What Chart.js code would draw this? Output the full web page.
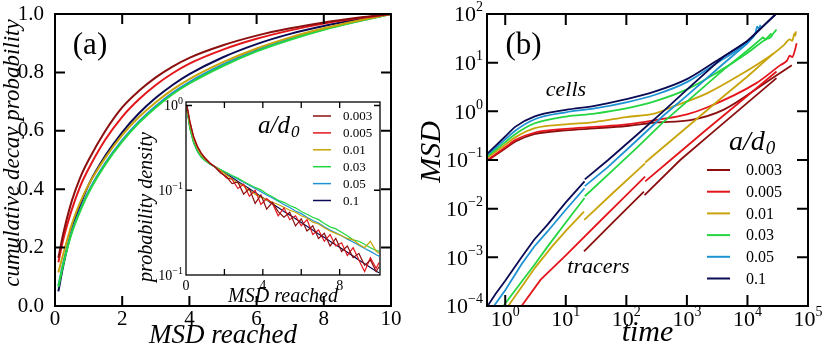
<!DOCTYPE html>
<html>
<head>
<meta charset="utf-8">
<script src="https://cdn.jsdelivr.net/npm/chart.js@4"></script>
<style>
body{margin:0;background:#fff;}
#wrap{position:relative;width:822px;height:348px;overflow:hidden;}
canvas{position:absolute;}
.fontwarm{position:absolute;left:-9999px;top:0;font-family:'Liberation Serif';font-size:20px;}
</style>
</head>
<body>
<div class="fontwarm">warm 0123 <i>italic warm</i></div>
<div id="wrap">
<canvas id="chartA" width="411" height="348" style="left:0;top:0;width:411px;height:348px"></canvas>
<canvas id="inset" width="255" height="212" style="left:130px;top:96px;width:255px;height:212px"></canvas>
<canvas id="chartB" width="411" height="348" style="left:411px;top:0;width:411px;height:348px"></canvas>
</div>
<script>
/* DATA */

const series = ["0.003","0.005","0.01","0.03","0.05","0.1"];
const colors = ["#8b0f0f","#e3161c","#c8a40a","#24d640","#1e93d3","#0b0b55"];

// (a) cumulative decay probability vs MSD reached
const msdA = [0.1,0.25,0.5,0.75,1,1.5,2,2.5,3,3.5,4,5,6,7,8,9,10];
const cum003 = [0.165,0.25,0.36,0.44,0.50,0.60,0.68,0.737,0.783,0.82,0.85,0.893,0.926,0.951,0.971,0.987,1.0];
const cum005 = [0.15,0.23,0.33,0.41,0.47,0.57,0.648,0.708,0.757,0.797,0.83,0.878,0.915,0.944,0.967,0.985,1.0];
const cum01  = [0.115,0.18,0.28,0.355,0.415,0.508,0.585,0.647,0.698,0.741,0.777,0.835,0.882,0.92,0.951,0.977,1.0];
const cum03  = [0.065,0.145,0.25,0.325,0.388,0.485,0.563,0.627,0.68,0.725,0.762,0.822,0.872,0.912,0.946,0.974,1.0];
const cum05  = [0.07,0.15,0.255,0.33,0.393,0.49,0.568,0.632,0.685,0.73,0.767,0.827,0.876,0.915,0.948,0.975,1.0];
const cum1   = [0.05,0.14,0.26,0.345,0.415,0.515,0.595,0.66,0.713,0.757,0.794,0.852,0.897,0.932,0.959,0.981,1.0];

// inset: probability density vs MSD reached
const insetX = [0.05,0.2,0.4,0.6,0.8,1.0,1.25,1.5,1.8,2.1,2.4,2.7,3.0,3.3,3.6,3.9,4.2,4.5,4.8,5.1,5.4,5.7,6.0,6.3,6.6,6.9,7.2,7.5,7.8,8.1,8.4,8.7,9.0,9.3,9.6,9.9,10.05];
const den003 = [1.0,0.64,0.42,0.325,0.27,0.237,0.208,0.188,0.16,0.145,0.12,0.125,0.09,0.105,0.07,0.088,0.06,0.072,0.056,0.048,0.055,0.038,0.046,0.033,0.038,0.027,0.031,0.022,0.027,0.019,0.022,0.016,0.018,0.013,0.015,0.011,0.0125];
const den005 = [1.0,0.66,0.43,0.33,0.275,0.24,0.21,0.19,0.165,0.14,0.135,0.105,0.118,0.085,0.1,0.068,0.08,0.07,0.05,0.062,0.045,0.05,0.038,0.045,0.03,0.034,0.025,0.03,0.022,0.024,0.017,0.021,0.015,0.011,0.016,0.012,0.014];
const den01  = [0.95,0.6,0.4,0.31,0.26,0.23,0.207,0.19,0.17,0.152,0.136,0.122,0.112,0.1,0.09,0.083,0.077,0.072,0.068,0.063,0.058,0.055,0.05,0.047,0.042,0.04,0.036,0.033,0.031,0.029,0.027,0.026,0.023,0.021,0.025,0.019,0.018];
const den03  = [0.9,0.53,0.36,0.285,0.245,0.222,0.203,0.19,0.176,0.162,0.149,0.139,0.127,0.117,0.108,0.101,0.091,0.084,0.076,0.072,0.066,0.062,0.056,0.052,0.048,0.045,0.0405,0.037,0.035,0.032,0.029,0.026,0.025,0.023,0.021,0.0195,0.019];
const den05  = [0.9,0.54,0.36,0.285,0.245,0.222,0.203,0.19,0.175,0.161,0.147,0.135,0.124,0.114,0.105,0.096,0.088,0.081,0.074,0.068,0.0625,0.057,0.053,0.048,0.044,0.041,0.037,0.034,0.0315,0.029,0.0265,0.0245,0.0225,0.0205,0.019,0.0173,0.0167];
const den1   = [0.92,0.55,0.37,0.29,0.25,0.225,0.205,0.19,0.172,0.155,0.141,0.127,0.115,0.104,0.094,0.0845,0.0765,0.069,0.0625,0.056,0.051,0.046,0.0415,0.0375,0.034,0.0305,0.0278,0.025,0.0226,0.0205,0.0185,0.0167,0.015,0.0136,0.0123,0.0111,0.0106];
const insetXTicks = [0,2,4,6,8];
const insetXLabels = ["0","","4","","8"];
const insetYTicks = [0.01,0.1,1];
const insetYExp = ["-1","-1","0"];

// (b) MSD vs time, [time, MSD]; null marks a break between segments
const cells003 = [[0.5,0.0955],[1.0,0.172],[1.48,0.24],[3,0.339],[10,0.407],[30,0.447],[100,0.5],[300,0.589],[1150,0.66],[4000,1.07],[21000,4.07],[54000,8.9]];
const cells005 = [[0.5,0.098],[1.0,0.182],[1.48,0.259],[3,0.363],[10,0.437],[30,0.479],[100,0.537],[300,0.66],[1000,0.87],[2140,1.2],[14000,3.8],[35000,8.9],[45000,11],[50000,14],[55000,13],[60000,17],[65000,25]];
const cells01  = [[0.5,0.11],[1.0,0.206],[1.48,0.295],[3,0.447],[10,0.537],[30,0.603],[100,0.76],[300,0.91],[600,1.26],[2140,2.34],[7600,5.62],[27000,15.5],[40000,23],[50000,30],[55000,28],[60000,40],[62000,36],[63000,44]];
const cells03  = [[0.5,0.1175],[1.0,0.233],[1.48,0.344],[3,0.562],[10,0.782],[30,0.9],[100,1.148],[300,1.62],[1000,2.82],[3000,6.03],[10000,15.85],[20000,30],[24000,33],[26000,38],[30200,47.9]];
const cells05  = [[0.5,0.126],[1.0,0.265],[1.48,0.404],[3,0.68],[10,0.955],[30,1.146],[100,1.53],[300,2.19],[1000,3.98],[3000,9.55],[10000,26.3],[13500,40],[14500,55],[15500,50],[16500,60]];
const cells1   = [[0.5,0.133],[1.0,0.304],[1.48,0.485],[3,0.78],[10,1.07],[30,1.3],[100,1.78],[300,2.57],[1000,4.6],[3000,10.7],[10000,28],[29500,100],[40000,140]];

const trac003 = [[20,0.00132],[60,0.0052],[195,0.0224],[200,null],[200,0.019],[776,0.1],[3000,0.42],[11000,1.66],[30200,4.8]];
const trac005 = [[1.86,0.0001],[3.85,0.000347],[10,0.0011],[30,0.0043],[100,0.019],[204,0.0457],[205,null],[205,0.0363],[537,0.1],[2000,0.4],[10000,2.09],[30200,6.6]];
const trac01  = [[1.12,0.0001],[2,0.00028],[3.16,0.00063],[6,0.0017],[10,0.0035],[20,0.0087],[20.2,null],[20.2,0.0059],[60,0.021],[204,0.085],[205,null],[205,0.089],[250,0.11],[1000,0.47],[3000,1.5],[10000,5.2],[27000,15.5]];
const trac03  = [[0.93,0.0001],[1.86,0.000316],[3,0.00069],[5,0.00166],[10,0.0052],[20.4,0.0166],[20.6,null],[20.6,0.018],[50,0.05],[150,0.18],[407,0.6],[1000,1.58],[4000,7.1],[10000,17.8],[18000,33],[20000,30],[25000,40]];
const trac05  = [[0.65,0.0001],[1,0.00021],[1.86,0.00072],[3,0.00165],[5,0.0034],[10,0.0095],[20.4,0.0263],[20.6,null],[20.6,0.029],[50,0.072],[150,0.255],[407,0.81],[1000,2.1],[4000,9.5],[10000,25],[16000,50]];
const trac1   = [[0.51,0.0001],[0.7,0.00018],[1,0.00033],[1.86,0.001],[3,0.0023],[5,0.0047],[10,0.0135],[20.4,0.0363],[20.6,null],[20.6,0.04],[50,0.1],[150,0.33],[407,1.0],[1000,2.8],[4000,13.2],[10000,28],[29500,100],[40000,140]];

const timeTicks = [1,10,100,1000,10000,100000];
const msdTicks = [0.0001,0.001,0.01,0.1,1,10,100];


/* SETUP */

const SERIF = "'Liberation Serif'";
Chart.defaults.font.family = SERIF;
Chart.defaults.color = "#000";

function pts(arr){ return arr.map(p => ({x:p[0], y:p[1]})); }

// box round the plot with inward ticks on all four sides
const frame = {
  id:"frame",
  beforeDatasetsDraw(chart, args, o){
    if(!o.fill) return;
    const a = chart.chartArea, ctx = chart.ctx;
    ctx.save(); ctx.fillStyle = "#fff";
    ctx.fillRect(a.left, a.top, a.right - a.left, a.bottom - a.top);
    ctx.restore();
  },
  afterDatasetsDraw(chart, args, o){
    const ctx = chart.ctx, a = chart.chartArea;
    const x = chart.scales.x, y = chart.scales.y;
    ctx.save();
    ctx.strokeStyle = "#000";
    ctx.lineWidth = o.width;
    ctx.beginPath();
    x.ticks.forEach(t => {
      const p = x.getPixelForValue(t.value);
      if(p < a.left + 2 || p > a.right - 2) return;
      ctx.moveTo(p, a.bottom); ctx.lineTo(p, a.bottom - o.len);
      ctx.moveTo(p, a.top); ctx.lineTo(p, a.top + o.len);
    });
    y.ticks.forEach(t => {
      const p = y.getPixelForValue(t.value);
      if(p < a.top + 2 || p > a.bottom - 2) return;
      ctx.moveTo(a.left, p); ctx.lineTo(a.left + o.len, p);
      ctx.moveTo(a.right, p); ctx.lineTo(a.right - o.len, p);
    });
    ctx.stroke();
    ctx.strokeRect(a.left, a.top, a.right - a.left, a.bottom - a.top);
    ctx.restore();
  }
};

// 10^n tick labels for log axes
const powLabels = {
  id:"powLabels",
  afterDraw(chart, args, o){
    if(!o.axes) return;
    const ctx = chart.ctx, a = chart.chartArea;
    ctx.save();
    ctx.fillStyle = "#000";
    ctx.textAlign = "left";
    ctx.textBaseline = "alphabetic";
    o.axes.forEach(id => {
      const s = chart.scales[id];
      s.ticks.forEach((t, i) => {
        let es = (o.exps && o.exps[id]) ? o.exps[id][i] : String(Math.round(Math.log10(t.value)));
        es = es.replace("-", "\u2212");
        ctx.font = o.base + "px " + SERIF;
        const w1 = ctx.measureText("10").width;
        ctx.font = o.sup + "px " + SERIF;
        const w2 = ctx.measureText(es).width;
        const p = s.getPixelForValue(t.value);
        let bx, by;
        if(id === "x"){ bx = p - (w1 + w2) / 2; by = a.bottom + o.xDrop; }
        else { bx = a.left - o.yGap - w1 - w2; by = p + o.base * 0.33; }
        ctx.font = o.base + "px " + SERIF;
        ctx.fillText("10", bx, by);
        ctx.font = o.sup + "px " + SERIF;
        ctx.fillText(es, bx + w1, by - o.raise);
      });
    });
    ctx.restore();
  }
};

// free text: panel letters, y titles, annotations
const notes = {
  id:"notes",
  afterDraw(chart, args, o){
    if(!o.items) return;
    const ctx = chart.ctx;
    ctx.save();
    ctx.fillStyle = "#000";
    ctx.textAlign = "center";
    ctx.textBaseline = "middle";
    o.items.forEach(n => {
      ctx.font = (n.italic ? "italic " : "") + n.size + "px " + SERIF;
      ctx.save();
      ctx.translate(n.x, n.y);
      if(n.rot) ctx.rotate(n.rot);
      ctx.fillText(n.text, 0, 0);
      ctx.restore();
    });
    ctx.restore();
  }
};

// a/d0 legend
const keyBox = {
  id:"keyBox",
  afterDraw(chart, args, o){
    if(o.x0 === undefined) return;
    const ctx = chart.ctx;
    ctx.save();
    ctx.fillStyle = "#000";
    ctx.textAlign = "left";
    ctx.textBaseline = "alphabetic";
    ctx.font = "italic " + o.tSize + "px " + SERIF;
    ctx.fillText("a/d", o.tx, o.ty);
    const w = ctx.measureText("a/d").width;
    ctx.font = "italic " + o.sSize + "px " + SERIF;
    ctx.fillText("0", o.tx + w + 1, o.ty + o.sDrop);
    ctx.textBaseline = "middle";
    ctx.font = o.size + "px " + SERIF;
    ctx.lineWidth = o.lw;
    series.forEach((s, i) => {
      const yy = o.y0 + i * o.dy;
      ctx.strokeStyle = colors[i];
      ctx.beginPath(); ctx.moveTo(o.x0, yy); ctx.lineTo(o.x1, yy); ctx.stroke();
      ctx.fillText(s, o.tx2, yy + 1);
    });
    ctx.restore();
  }
};

const baseOpts = {
  responsive:false, animation:false, devicePixelRatio:1,
  elements:{point:{radius:0}}
};

function drawAll(){

/* PANEL (a) */

const cumA = [cum003, cum005, cum01, cum03, cum05, cum1];

new Chart(document.getElementById("chartA"), {
  type:"line",
  data:{
    datasets: cumA.map((c, i) => ({
      label: series[i],
      data: msdA.map((m, j) => ({x:m, y:c[j]})),
      borderColor: colors[i], borderWidth:2, cubicInterpolationMode:"monotone", fill:false
    }))
  },
  options:Object.assign({}, baseOpts, {
    layout:{padding:{top:14, right:20, left:0, bottom:0}},
    plugins:{
      legend:{display:false}, tooltip:{enabled:false},
      frame:{width:2, len:10},
      notes:{items:[
        {text:"(a)", x:90, y:46, size:31},
        {text:"cumulative decay probability", x:13, y:153, size:23, italic:true, rot:-Math.PI/2}
      ]}
    },
    scales:{
      x:{type:"linear", min:0, max:10,
        grid:{display:false}, border:{display:false},
        ticks:{stepSize:2, font:{size:21, lineHeight:1}, padding:-5, maxRotation:0},
        title:{display:true, text:"MSD reached", font:{size:27, style:"italic", lineHeight:1}, padding:{top:0, bottom:-1}},
        afterFit: s => { s.height = 42; }
      },
      y:{type:"linear", min:0, max:1,
        grid:{display:false}, border:{display:false},
        ticks:{stepSize:0.2, font:{size:21, lineHeight:1}, padding:3, callback: v => v.toFixed(1)},
        afterFit: s => { s.width = 55; }
      }
    }
  }),
  plugins:[frame, notes]
});


/* INSET */

const denA = [den003, den005, den01, den03, den05, den1];

new Chart(document.getElementById("inset"), {
  type:"line",
  data:{
    datasets: denA.map((d, i) => ({
      label: series[i],
      data: insetX.map((m, j) => ({x:m, y:d[j]})),
      borderColor: colors[i], borderWidth:1.2, tension:0, fill:false
    }))
  },
  options:Object.assign({}, baseOpts, {
    layout:{padding:{top:6, right:5, left:0, bottom:0}},
    plugins:{
      legend:{display:false}, tooltip:{enabled:false},
      frame:{width:1.3, len:6, fill:true},
      powLabels:{axes:["y"], base:14, sup:10, raise:6, yGap:3, exps:{y:insetYExp}},
      keyBox:{tx:128, ty:37, tSize:25, sSize:17, sDrop:4, x0:183, x1:201, tx2:213, y0:20, dy:16.9, size:13, lw:1.5},
      notes:{items:[
        {text:"probability density", x:17, y:111, size:20, italic:true, rot:-Math.PI/2}
      ]}
    },
    scales:{
      x:{type:"linear", min:0, max:10.1,
        grid:{display:false}, border:{display:false},
        afterBuildTicks: s => { s.ticks = insetXTicks.map(v => ({value:v})); },
        ticks:{font:{size:14, lineHeight:1}, padding:-4, maxRotation:0, autoSkip:false, callback:(v, i) => insetXLabels[i]},
        title:{display:true, text:"MSD reached", font:{size:20, style:"italic", lineHeight:1}, padding:{top:0, bottom:1}},
        afterFit: s => { s.height = 33; }
      },
      y:{type:"logarithmic", min:0.01, max:1.1,
        grid:{display:false}, border:{display:false},
        afterBuildTicks: s => { s.ticks = insetYTicks.map(v => ({value:v})); },
        ticks:{display:false},
        afterFit: s => { s.width = 56; }
      }
    }
  }),
  plugins:[frame, powLabels, notes, keyBox]
});


/* PANEL (b) */

const cellsB = [cells003, cells005, cells01, cells03, cells05, cells1];
const tracB = [trac003, trac005, trac01, trac03, trac05, trac1];
const dsB = [];
for(let i = series.length - 1; i >= 0; i--){
  dsB.push({label:series[i], data:pts(cellsB[i]), borderColor:colors[i], borderWidth:1.8, cubicInterpolationMode:"monotone", fill:false});
  dsB.push({label:series[i], data:pts(tracB[i]), borderColor:colors[i], borderWidth:1.8, tension:0, fill:false, spanGaps:false});
}

new Chart(document.getElementById("chartB"), {
  type:"line",
  data:{datasets:dsB},
  options:Object.assign({}, baseOpts, {
    layout:{padding:{top:14, right:14, left:0, bottom:0}},
    plugins:{
      legend:{display:false}, tooltip:{enabled:false},
      frame:{width:2, len:11},
      powLabels:{axes:["x","y"], base:22, sup:14, raise:10, yGap:4, xDrop:20},
      keyBox:{tx:318, ty:150, tSize:28, sSize:19, sDrop:4, x0:296, x1:319, tx2:335, y0:170, dy:21.7, size:16, lw:2},
      notes:{items:[
        {text:"(b)", x:112.5, y:46, size:31},
        {text:"cells", x:155, y:90, size:22, italic:true},
        {text:"tracers", x:187.5, y:267, size:22, italic:true},
        {text:"MSD", x:21, y:152, size:30, italic:true, rot:-Math.PI/2}
      ]}
    },
    scales:{
      x:{type:"logarithmic", min:0.5, max:100000,
        grid:{display:false}, border:{display:false},
        afterBuildTicks: s => { s.ticks = timeTicks.map(v => ({value:v})); },
        ticks:{display:false},
        title:{display:true, text:"time", font:{size:30, style:"italic", lineHeight:1}, padding:{top:0, bottom:0}},
        afterFit: s => { s.height = 42; }
      },
      y:{type:"logarithmic", min:0.0001, max:100,
        grid:{display:false}, border:{display:false},
        afterBuildTicks: s => { s.ticks = msdTicks.map(v => ({value:v})); },
        ticks:{display:false},
        afterFit: s => { s.width = 76; }
      }
    }
  }),
  plugins:[frame, powLabels, notes, keyBox]
});

}

Promise.all([
  document.fonts.load("20px 'Liberation Serif'"),
  document.fonts.load("italic 20px 'Liberation Serif'")
]).then(() => document.fonts.ready).then(drawAll, drawAll);
</script>
</body>
</html>
